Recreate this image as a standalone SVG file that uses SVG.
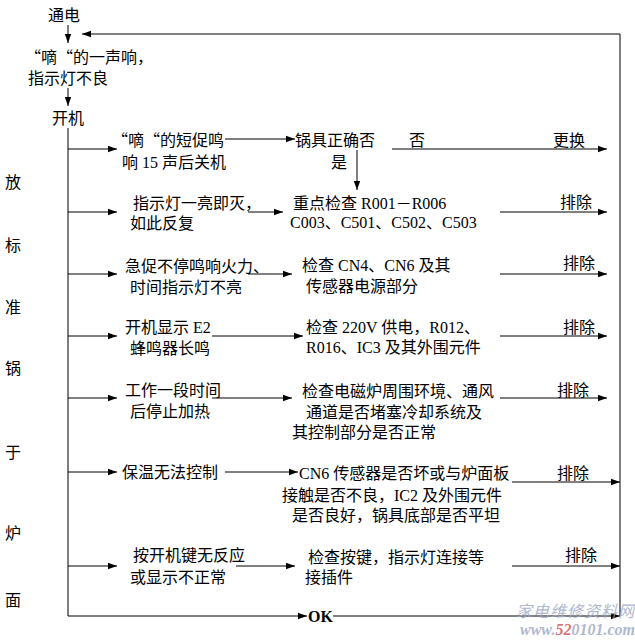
<svg xmlns="http://www.w3.org/2000/svg" width="635" height="640" viewBox="0 0 635 640">
<style>
text{font-family:"Liberation Serif","Noto Sans CJK SC",serif;font-size:16px;fill:#000}
.q{font-family:"Noto Sans CJK SC",sans-serif}
.ok{font-weight:bold}
.cn line,.cn polyline{stroke:#000;stroke-width:1;fill:none}
.wm{font-family:"Liberation Serif","Noto Sans CJK SC",serif;font-style:italic;fill:#a3acc6}
</style>
<defs>
<marker id="ah" markerWidth="10" markerHeight="8" refX="9" refY="4" orient="auto" markerUnits="userSpaceOnUse">
<path d="M0,0.8 L9,4 L0,7.2 z" fill="#000"/>
</marker>
</defs>
<rect width="635" height="640" fill="#fff"/>

<g id="connectors" class="cn">
<line x1="68" y1="25" x2="68" y2="43" marker-end="url(#ah)"/>
<polyline points="620,616 620,34 82,34" marker-end="url(#ah)"/>
<line x1="68" y1="88" x2="68" y2="106" marker-end="url(#ah)"/>
<line x1="68" y1="128" x2="68" y2="616"/>
<line x1="68" y1="149" x2="117" y2="149" marker-end="url(#ah)"/>
<line x1="225" y1="139" x2="295" y2="139" marker-end="url(#ah)"/>
<line x1="357" y1="150" x2="357" y2="190" marker-end="url(#ah)"/>
<line x1="392" y1="149" x2="607" y2="149" marker-end="url(#ah)"/>
<line x1="68" y1="212" x2="117" y2="212" marker-end="url(#ah)"/>
<line x1="248" y1="212" x2="283" y2="212" marker-end="url(#ah)"/>
<line x1="500" y1="212" x2="607" y2="212" marker-end="url(#ah)"/>
<line x1="68" y1="274" x2="117" y2="274" marker-end="url(#ah)"/>
<line x1="248" y1="274" x2="292" y2="274" marker-end="url(#ah)"/>
<line x1="500" y1="274" x2="607" y2="274" marker-end="url(#ah)"/>
<line x1="68" y1="336" x2="117" y2="336" marker-end="url(#ah)"/>
<line x1="212" y1="336" x2="303" y2="336" marker-end="url(#ah)"/>
<line x1="500" y1="336" x2="607" y2="336" marker-end="url(#ah)"/>
<line x1="68" y1="398" x2="117" y2="398" marker-end="url(#ah)"/>
<line x1="212" y1="398" x2="292" y2="398" marker-end="url(#ah)"/>
<line x1="500" y1="398" x2="607" y2="398" marker-end="url(#ah)"/>
<line x1="68" y1="472" x2="117" y2="472" marker-end="url(#ah)"/>
<line x1="225" y1="472" x2="298" y2="472" marker-end="url(#ah)"/>
<line x1="512" y1="482" x2="620" y2="482" marker-end="url(#ah)"/>
<line x1="68" y1="566" x2="117" y2="566" marker-end="url(#ah)"/>
<line x1="236" y1="566" x2="295" y2="566" marker-end="url(#ah)"/>
<line x1="512" y1="566" x2="620" y2="566" marker-end="url(#ah)"/>
<line x1="68" y1="616" x2="307" y2="616" marker-end="url(#ah)"/>
<line x1="333" y1="616" x2="620" y2="616" marker-end="url(#ah)"/>
</g>

<g id="power"><text x="48" y="21">通电</text></g>
<g id="beep"><text x="25" y="63"><tspan class="q">“</tspan>嘀<tspan class="q">“</tspan>的一声响，</text><text x="28" y="84">指示灯不良</text></g>
<g id="start"><text x="52" y="124">开机</text></g>

<g id="side">
<text x="5" y="188">放</text>
<text x="5" y="251">标</text>
<text x="5" y="313">准</text>
<text x="5" y="374">锅</text>
<text x="5" y="458">于</text>
<text x="5" y="539">炉</text>
<text x="5" y="606">面</text>
</g>

<g id="s1"><text x="112" y="146"><tspan class="q">“</tspan>嘀<tspan class="q">“</tspan>的短促鸣</text><text x="122" y="168">响 15 声后关机</text></g>
<g id="pot"><text x="295" y="146">锅具正确否</text><text x="331" y="168">是</text></g>
<g id="no"><text x="409" y="146">否</text></g>
<g id="replace"><text x="553" y="146">更换</text></g>

<g id="s2"><text x="133" y="209">指示灯一亮即灭，</text><text x="130" y="229">如此反复</text></g>
<g id="c2"><text x="293" y="209">重点检查 R001－R006</text><text x="290" y="228">C003、C501、C502、C503</text></g>
<g id="r2"><text x="560" y="208">排除</text></g>

<g id="s3"><text x="125" y="272">急促不停鸣响火力、</text><text x="130" y="293">时间指示灯不亮</text></g>
<g id="c3"><text x="302" y="271">检查 CN4、CN6 及其</text><text x="306" y="292">传感器电源部分</text></g>
<g id="r3"><text x="563" y="269">排除</text></g>

<g id="s4"><text x="125" y="333">开机显示 E2</text><text x="130" y="354">蜂鸣器长鸣</text></g>
<g id="c4"><text x="306" y="333">检查 220V 供电，R012、</text><text x="306" y="353">R016、IC3 及其外围元件</text></g>
<g id="r4"><text x="563" y="333">排除</text></g>

<g id="s5"><text x="125" y="396">工作一段时间</text><text x="130" y="417">后停止加热</text></g>
<g id="c5"><text x="302" y="397">检查电磁炉周围环境、通风</text><text x="306" y="418">通道是否堵塞冷却系统及</text><text x="292" y="438">其控制部分是否正常</text></g>
<g id="r5"><text x="557" y="396">排除</text></g>

<g id="s6"><text x="122" y="478">保温无法控制</text></g>
<g id="c6"><text x="299" y="479">CN6 传感器是否坏或与炉面板</text><text x="282" y="501">接触是否不良，IC2 及外围元件</text><text x="292" y="521">是否良好，锅具底部是否平坦</text></g>
<g id="r6"><text x="557" y="479">排除</text></g>

<g id="s7"><text x="133" y="561">按开机键无反应</text><text x="130" y="583">或显示不正常</text></g>
<g id="c7"><text x="308" y="563">检查按键，指示灯连接等</text><text x="305" y="583">接插件</text></g>
<g id="r7"><text x="565" y="561">排除</text></g>

<g id="okn"><text class="ok" x="308" y="622">OK</text></g>

<g id="watermark" opacity="0.85">
<text class="wm" x="516" y="617" font-size="15" letter-spacing="1">家电维修资料网</text>
<text class="wm" x="520" y="635" font-size="13" font-weight="bold">www.<tspan fill="#d06060">52</tspan>0101.com</text>
</g>
</svg>
